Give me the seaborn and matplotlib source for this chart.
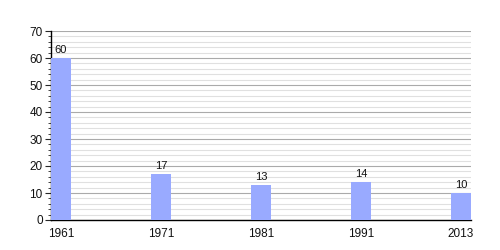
import matplotlib
matplotlib.use("Agg")
import matplotlib.pyplot as plt
import seaborn as sns
import pandas as pd
from matplotlib.ticker import MultipleLocator

years = ["1961", "1971", "1981", "1991", "2013"]
values = [60, 17, 13, 14, 10]

df = pd.DataFrame({"year": years, "value": values})

sns.set_style("white")
plt.rcParams['font.family'] = ['Liberation Sans', 'DejaVu Sans']

fig = plt.figure(figsize=(5, 2.5), dpi=100)
ax = fig.add_axes([0.102, 0.12, 0.84, 0.756])

sns.barplot(data=df, x="year", y="value", color="#99aaff", saturation=1,
            width=0.2, ax=ax, zorder=3, linewidth=0, edgecolor="none")

ax.set_xlim(-0.1, 4.1)
ax.set_ylim(0, 70)
ax.yaxis.set_major_locator(MultipleLocator(10))
ax.yaxis.set_minor_locator(MultipleLocator(2))
ax.grid(which="major", axis="y", color="#aaaaaa", linewidth=0.8, zorder=0)
ax.grid(which="minor", axis="y", color="#e0e0e0", linewidth=0.8, zorder=0)
ax.set_axisbelow(True)

for i, v in enumerate(values):
    ax.text(i, v + 1.2, str(v), ha="center", va="bottom", fontsize=8, color="#111111")

ax.set_xlabel("")
ax.set_ylabel("")
for s in ["top", "right"]:
    ax.spines[s].set_visible(False)
for s in ["left", "bottom"]:
    ax.spines[s].set_color("black")
    ax.spines[s].set_linewidth(1)
ax.tick_params(axis="y", which="major", left=True, length=4, width=0.8, labelsize=8.5, pad=2, labelcolor="#111111")
ax.tick_params(axis="y", which="minor", left=True, length=2, width=0.6)
ax.tick_params(axis="x", bottom=False, labelsize=8.5, pad=2, labelcolor="#111111")

fig.savefig("out.png", dpi=100)
